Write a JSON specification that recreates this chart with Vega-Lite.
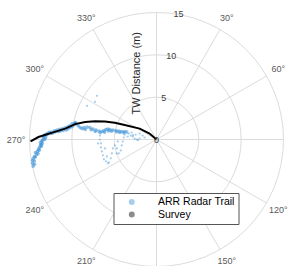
{
  "$schema": "https://vega.github.io/schema/vega-lite/v6.json",
  "width": 254,
  "height": 254,
  "autosize": {"type": "none"},
  "padding": {"left": 29.5, "top": 12.5, "right": 5, "bottom": 0},
  "background": "white",
  "config": {"view": {"stroke": null}, "font": "Liberation Sans"},
  "datasets": {
    "spokes": [
      {"angle": 0}, {"angle": 30, "label": "30°"}, {"angle": 60, "label": "60°"},
      {"angle": 90, "label": "90°"}, {"angle": 120, "label": "120°"}, {"angle": 150, "label": "150°"},
      {"angle": 180}, {"angle": 210, "label": "210°"}, {"angle": 240, "label": "240°"},
      {"angle": 270, "label": "270°"}, {"angle": 300, "label": "300°"}, {"angle": 330, "label": "330°"}
    ],
    "rings": [{"r": 5}, {"r": 10}, {"r": 15}],
    "rticks": [{"r": 0, "label": "0"}, {"r": 5, "label": "5"}, {"r": 10, "label": "10"}, {"r": 15, "label": "15"}],
    "rtitle": [{"label": "TW Distance (m)", "angle": 343.3, "dist": 8.16}],
    "trail": [
      {"angle": 257.8, "dist": 14.9}, {"angle": 259.2, "dist": 14.9}, {"angle": 260.5, "dist": 14.85},
      {"angle": 261.3, "dist": 14.7}, {"angle": 262.1, "dist": 14.55}, {"angle": 262.9, "dist": 14.29},
      {"angle": 263.9, "dist": 14.38}, {"angle": 264.3, "dist": 14.13}, {"angle": 265.2, "dist": 13.99},
      {"angle": 266.1, "dist": 13.86}, {"angle": 267.1, "dist": 13.73}, {"angle": 267.5, "dist": 13.61},
      {"angle": 268.5, "dist": 13.72}, {"angle": 269.5, "dist": 13.48}, {"angle": 270.5, "dist": 13.36},
      {"angle": 271.5, "dist": 13.36}, {"angle": 272.0, "dist": 13.25}, {"angle": 272.6, "dist": 13.14},
      {"angle": 273.1, "dist": 12.91}, {"angle": 273.2, "dist": 12.56}, {"angle": 273.5, "dist": 12.33},
      {"angle": 274.2, "dist": 11.99}, {"angle": 274.6, "dist": 11.64}, {"angle": 275.0, "dist": 11.41},
      {"angle": 275.5, "dist": 11.07}, {"angle": 276.0, "dist": 10.72}, {"angle": 277.0, "dist": 10.51},
      {"angle": 277.9, "dist": 10.29}, {"angle": 278.7, "dist": 10.08}, {"angle": 280.2, "dist": 9.88},
      {"angle": 281.7, "dist": 9.81}, {"angle": 281.2, "dist": 9.68}, {"angle": 280.0, "dist": 9.40},
      {"angle": 278.9, "dist": 9.13}, {"angle": 278.3, "dist": 8.88}, {"angle": 279.3, "dist": 8.67},
      {"angle": 280.1, "dist": 8.33}, {"angle": 280.2, "dist": 7.98}, {"angle": 279.3, "dist": 7.60},
      {"angle": 278.9, "dist": 7.23}, {"angle": 278.3, "dist": 6.87}, {"angle": 278.3, "dist": 6.51},
      {"angle": 279.6, "dist": 6.30}, {"angle": 281.1, "dist": 6.09}, {"angle": 282.1, "dist": 5.87},
      {"angle": 282.0, "dist": 5.63}, {"angle": 282.2, "dist": 5.27}, {"angle": 282.4, "dist": 4.92},
      {"angle": 282.6, "dist": 4.56}, {"angle": 282.9, "dist": 4.21}, {"angle": 284.0, "dist": 3.87},
      {"angle": 284.0, "dist": 3.62},
      {"angle": 258.5, "dist": 14.7}, {"angle": 260.0, "dist": 14.65}, {"angle": 261.8, "dist": 14.45},
      {"angle": 263.2, "dist": 14.1}, {"angle": 264.8, "dist": 13.9}, {"angle": 266.5, "dist": 13.62},
      {"angle": 268.0, "dist": 13.5}, {"angle": 269.0, "dist": 13.55}, {"angle": 270.0, "dist": 13.2},
      {"angle": 271.0, "dist": 13.1}, {"angle": 272.5, "dist": 12.95}, {"angle": 273.8, "dist": 12.7},
      {"angle": 274.0, "dist": 12.45}, {"angle": 274.8, "dist": 12.1}, {"angle": 275.4, "dist": 11.8},
      {"angle": 276.0, "dist": 11.5}, {"angle": 276.5, "dist": 11.2}, {"angle": 277.3, "dist": 10.9},
      {"angle": 278.0, "dist": 10.6}, {"angle": 279.0, "dist": 10.4}, {"angle": 280.5, "dist": 10.15},
      {"angle": 281.2, "dist": 9.8},
      {"angle": 278.0, "dist": 8.5}, {"angle": 278.5, "dist": 7.8}, {"angle": 277.5, "dist": 7.3},
      {"angle": 277.0, "dist": 6.7}, {"angle": 278.0, "dist": 6.2}, {"angle": 280.0, "dist": 5.75},
      {"angle": 280.5, "dist": 5.4}, {"angle": 280.8, "dist": 4.8}, {"angle": 281.0, "dist": 4.4},
      {"angle": 281.5, "dist": 3.95}
    ],
    "scatter": [
      {"angle": 282.1, "dist": 3.35}, {"angle": 278.7, "dist": 3.08},
      {"angle": 277.1, "dist": 2.83}, {"angle": 272.6, "dist": 2.58}, {"angle": 270.0, "dist": 2.34},
      {"angle": 273.4, "dist": 2.0}, {"angle": 279.5, "dist": 1.43},
      {"angle": 274.0, "dist": 6.70}, {"angle": 270.0, "dist": 6.68}, {"angle": 265.9, "dist": 6.58},
      {"angle": 261.9, "dist": 6.63}, {"angle": 257.7, "dist": 6.60}, {"angle": 253.5, "dist": 6.60},
      {"angle": 249.3, "dist": 6.64}, {"angle": 246.7, "dist": 6.51}, {"angle": 244.4, "dist": 6.24},
      {"angle": 243.9, "dist": 6.39}, {"angle": 247.6, "dist": 5.83}, {"angle": 252.7, "dist": 5.52},
      {"angle": 258.4, "dist": 5.26}, {"angle": 261.9, "dist": 4.97}, {"angle": 257.3, "dist": 4.80},
      {"angle": 249.8, "dist": 4.75}, {"angle": 253.0, "dist": 4.41}, {"angle": 260.3, "dist": 4.16},
      {"angle": 266.6, "dist": 3.99}, {"angle": 273.5, "dist": 3.87}, {"angle": 251.2, "dist": 6.19},
      {"angle": 260.2, "dist": 6.18}, {"angle": 266.1, "dist": 6.93}, {"angle": 267.1, "dist": 4.58},
      {"angle": 250.8, "dist": 5.0}, {"angle": 278.9, "dist": 3.8}, {"angle": 275.9, "dist": 3.42},
      {"angle": 285.6, "dist": 3.04}, {"angle": 283.4, "dist": 2.53}, {"angle": 289.4, "dist": 2.11},
      {"angle": 285.9, "dist": 1.71}, {"angle": 280.3, "dist": 2.82}, {"angle": 268.0, "dist": 2.19},
      {"angle": 306.3, "dist": 8.72}, {"angle": 295.9, "dist": 9.12}, {"angle": 301.5, "dist": 8.52}
    ],
    "survey": [
      {"angle": 270.0, "dist": 0.0}, {"angle": 310.6, "dist": 1.08}, {"angle": 302.9, "dist": 2.37},
      {"angle": 294.4, "dist": 4.12}, {"angle": 292.0, "dist": 5.31}, {"angle": 289.3, "dist": 6.46},
      {"angle": 286.45, "dist": 7.58}, {"angle": 283.7, "dist": 8.68}, {"angle": 280.7, "dist": 9.78},
      {"angle": 276.8, "dist": 10.86}, {"angle": 273.8, "dist": 12.33}, {"angle": 271.2, "dist": 13.95},
      {"angle": 269.1, "dist": 14.88}
    ]
  },
  "layer": [
    {
      "data": {"name": "rings"},
      "transform": [{"calculate": "0", "as": "cx"}, {"calculate": "0", "as": "cy"}],
      "mark": {"type": "point", "shape": "circle", "filled": false, "stroke": "#dcdcdc", "strokeWidth": 1, "opacity": 1},
      "encoding": {
        "x": {"field": "cx", "type": "quantitative", "scale": {"domain": [-15, 15], "nice": false, "zero": false}, "axis": null},
        "y": {"field": "cy", "type": "quantitative", "scale": {"domain": [-15, 15], "nice": false, "zero": false}, "axis": null},
        "size": {"field": "r", "type": "quantitative", "legend": null, "scale": {"type": "pow", "exponent": 2, "domain": [0, 15], "range": [0, 64516], "zero": true}}
      }
    },
    {
      "data": {"name": "spokes"},
      "transform": [
        {"calculate": "0", "as": "cx"},
        {"calculate": "0", "as": "cy"},
        {"calculate": "15*sin(datum.angle*PI/180)", "as": "sx"},
        {"calculate": "15*cos(datum.angle*PI/180)", "as": "sy"}
      ],
      "mark": {"type": "rule", "color": "#dcdcdc", "strokeWidth": 1},
      "encoding": {
        "x": {"field": "cx", "type": "quantitative", "axis": null},
        "y": {"field": "cy", "type": "quantitative", "axis": null},
        "x2": {"field": "sx"},
        "y2": {"field": "sy"}
      }
    },
    {
      "data": {"name": "spokes"},
      "transform": [
        {"filter": "isValid(datum.label)"},
        {"calculate": "16.6*sin(datum.angle*PI/180)", "as": "lx"},
        {"calculate": "16.6*cos(datum.angle*PI/180)", "as": "ly"}
      ],
      "mark": {"type": "text", "fontSize": 9, "color": "#5a5a5a", "align": "center", "baseline": "middle"},
      "encoding": {
        "x": {"field": "lx", "type": "quantitative", "axis": null},
        "y": {"field": "ly", "type": "quantitative", "axis": null},
        "text": {"field": "label"}
      }
    },
    {
      "data": {"name": "scatter"},
      "transform": [
        {"calculate": "datum.dist*sin(datum.angle*PI/180)", "as": "ex"},
        {"calculate": "datum.dist*cos(datum.angle*PI/180)", "as": "ny"},
        {"calculate": "'ARR Radar Trail'", "as": "series"}
      ],
      "mark": {"type": "point", "filled": true, "size": 5, "opacity": 0.45, "strokeWidth": 0},
      "encoding": {
        "x": {"field": "ex", "type": "quantitative", "axis": null},
        "y": {"field": "ny", "type": "quantitative", "axis": null},
        "color": {"field": "series", "type": "nominal"}
      }
    },
    {
      "data": {"name": "trail"},
      "transform": [
        {"calculate": "datum.dist*sin(datum.angle*PI/180)", "as": "ex"},
        {"calculate": "datum.dist*cos(datum.angle*PI/180)", "as": "ny"},
        {"calculate": "'ARR Radar Trail'", "as": "series"}
      ],
      "mark": {"type": "point", "filled": true, "size": 13, "opacity": 0.6, "strokeWidth": 0},
      "encoding": {
        "x": {"field": "ex", "type": "quantitative", "axis": null},
        "y": {"field": "ny", "type": "quantitative", "axis": null},
        "color": {
          "field": "series",
          "type": "nominal",
          "scale": {"domain": ["ARR Radar Trail", "Survey"], "range": ["#3f93d6", "#000000"]},
          "legend": {
            "title": null,
            "orient": "none",
            "legendX": 84,
            "legendY": 180.5,
            "strokeColor": "#555555",
            "fillColor": "#ffffff",
            "padding": 3,
            "rowPadding": 0.5,
            "clipHeight": 12,
            "symbolSize": 20,
            "symbolOffset": 10,
            "labelOffset": 21,
            "labelFontSize": 10.5,
            "labelColor": "#000000",
            "labelFont": "Liberation Sans"
          }
        }
      }
    },
    {
      "data": {"name": "survey"},
      "transform": [
        {"calculate": "datum.dist*sin(datum.angle*PI/180)", "as": "ex"},
        {"calculate": "datum.dist*cos(datum.angle*PI/180)", "as": "ny"},
        {"calculate": "'Survey'", "as": "series"}
      ],
      "mark": {"type": "line", "strokeWidth": 2},
      "encoding": {
        "x": {"field": "ex", "type": "quantitative", "axis": null},
        "y": {"field": "ny", "type": "quantitative", "axis": null},
        "order": {"field": "dist", "type": "quantitative"},
        "color": {"field": "series", "type": "nominal"}
      }
    },
    {
      "data": {"name": "rticks"},
      "transform": [
        {"calculate": "datum.r*sin(10*PI/180)", "as": "tx"},
        {"calculate": "datum.r*cos(10*PI/180)", "as": "ty"}
      ],
      "mark": {"type": "text", "fontSize": 9, "color": "#3c3c3c", "align": "center", "baseline": "middle"},
      "encoding": {
        "x": {"field": "tx", "type": "quantitative", "axis": null},
        "y": {"field": "ty", "type": "quantitative", "axis": null},
        "text": {"field": "label"}
      }
    },
    {
      "data": {"name": "rtitle"},
      "transform": [
        {"calculate": "datum.dist*sin(datum.angle*PI/180)", "as": "ex"},
        {"calculate": "datum.dist*cos(datum.angle*PI/180)", "as": "ny"}
      ],
      "mark": {"type": "text", "fontSize": 11, "color": "#262626", "angle": 270, "align": "center", "baseline": "middle"},
      "encoding": {
        "x": {"field": "ex", "type": "quantitative", "axis": null},
        "y": {"field": "ny", "type": "quantitative", "axis": null},
        "text": {"field": "label"}
      }
    }
  ]
}
